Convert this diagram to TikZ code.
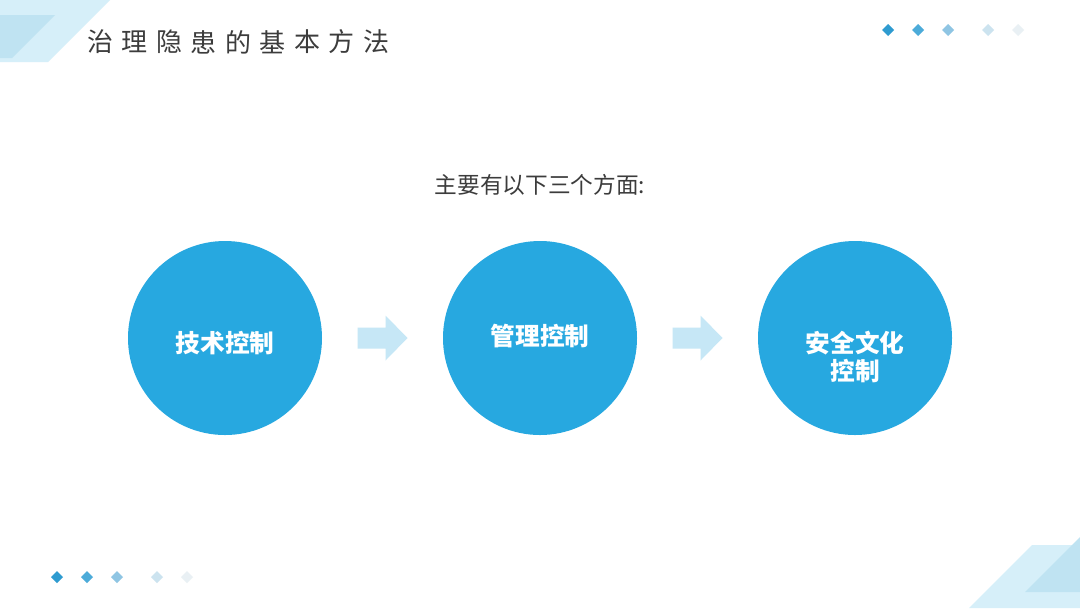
\documentclass[tikz,border=0pt]{standalone}
\usepackage{fontspec}
\newfontfamily\cjk{Noto Sans CJK SC}
\usepackage{tikz}
\usetikzlibrary{positioning,calc}
\definecolor{KBlue}{HTML}{27A8E0}
\definecolor{KArrow}{HTML}{C6E7F6}
\definecolor{KPale}{HTML}{D6EFF9}
\definecolor{KPaleDeep}{HTML}{BFE3F2}
\definecolor{KInk}{HTML}{3C3C3C}
\definecolor{KDotA}{HTML}{2E9BD0}
\definecolor{KDotB}{HTML}{4CABD9}
\definecolor{KDotC}{HTML}{8FC5E3}
\definecolor{KDotD}{HTML}{CCE3EF}
\definecolor{KDotE}{HTML}{E9F0F4}

\begin{document}
\begin{tikzpicture}[x=0.75pt,y=-0.75pt,
    stepcircle/.style={circle,fill=KBlue,minimum size=145.5pt,inner sep=0pt},
    steplabel/.style={text=white,font=\cjk\bfseries\fontsize{18.5}{21}\selectfont,
      align=center,inner sep=0pt},
    titlechar/.style={text=KInk,font=\cjk\fontsize{19.5}{22}\selectfont,inner sep=0pt}]
  \useasboundingbox (0,0) rectangle (1080,608);
  \fill[white] (0,0) rectangle (1080,608);
  % corner decorations
  \fill[KPale] (0,0) -- (110,0) -- (48,62) -- (0,62) -- cycle;
  \fill[KPaleDeep] (0,15) -- (55,15) -- (12,58) -- (0,58) -- cycle;
  \fill[KPale] (1032,545) -- (1080,545) -- (1080,608) -- (969,608) -- cycle;
  \fill[KPaleDeep] (1080,537) -- (1025,592) -- (1080,592) -- cycle;
  % dots
  \foreach \x/\c in {888/KDotA,918/KDotB,948/KDotC,988/KDotD,1018/KDotE}
    \fill[\c] (\x,30) +(0,-6) -- +(6,0) -- +(0,6) -- +(-6,0) -- cycle;
  \foreach \x/\c in {57/KDotA,87/KDotB,117/KDotC,157/KDotD,187/KDotE}
    \fill[\c] (\x,577) +(0,-6) -- +(6,0) -- +(0,6) -- +(-6,0) -- cycle;
  % title
  \foreach \ch [count=\i] in {治,理,隐,患,的,基,本,方,法}
    \node[titlechar] (t\i) at ({100+(\i-1)*34.5},42) {\ch};
  \node[text=KInk,font=\cjk\fontsize{17}{20}\selectfont] (sub) at (540,185) {主要有以下三个方面:};
  % circles
  \node[stepcircle] (c1) at (225,338) {};
  \node[stepcircle] (c2) at (540,338) {};
  \node[stepcircle] (c3) at (855,338) {};
  \node[steplabel] (l1) at ($(c1)+(0,5)$) {技术控制};
  \node[steplabel] (l2) at ($(c2)+(0,-2)$) {管理控制};
  \node[steplabel,text width=100pt] (l3) at ($(c3)+(0,19)$) {安全文化\\控制};
  % arrows
  \foreach \a/\b [count=\k] in {c1/c2,c2/c3} {
    \coordinate (a\k) at ($(\a)!0.5!(\b)$);
    \fill[KArrow] ([shift={(-25,-10.5)}]a\k) -- ++(28,0) -- ++(0,-12)
      -- ++(22,22.5) -- ++(-22,22.5) -- ++(0,-12) -- ++(-28,0) -- cycle;
  }
\end{tikzpicture}
\end{document}
